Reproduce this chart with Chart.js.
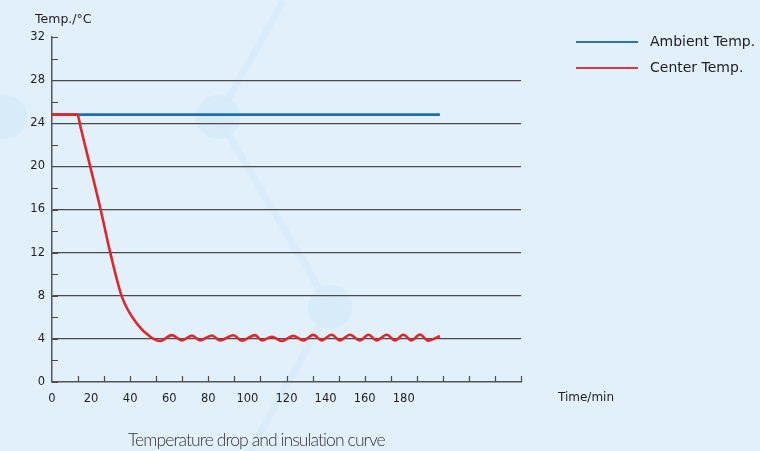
<!DOCTYPE html>
<html>
<head>
<meta charset="utf-8">
<script src="https://cdn.jsdelivr.net/npm/chart.js@4.4.0/dist/chart.umd.min.js"></script>
<style>
  body { margin: 0; background: #e1f0fa; }
  #wrap { position: relative; width: 760px; height: 451px; overflow: hidden; background: #e1f0fa; font-family: "DejaVu Sans", sans-serif; color: #1e1e1e; }
  #deco { position: absolute; left: 0; top: 0; }
  #chart { position: absolute; left: 0; top: 0; }
  .txt { position: absolute; white-space: nowrap; line-height: 1; }
  .leg-line { position: absolute; width: 62px; height: 2px; }
</style>
</head>
<body>
<div id="wrap">
  <svg id="deco" width="760" height="451">
    <g stroke="#d6eaf8" stroke-width="7" fill="none" opacity="0.6">
      <polyline points="284,0 218,117 330,307 250,451" />
    </g>
    <g fill="#d6eaf8" opacity="0.8">
      <circle cx="218" cy="117" r="22" />
      <circle cx="330" cy="307" r="22" />
      <circle cx="5" cy="117" r="22" />
    </g>
  </svg>
  <canvas id="chart" width="760" height="451"></canvas>
  <div class="txt" style="left:35px; top:13px; font-size:12.5px;">Temp./°C</div>
  <div class="txt" style="left:558px; top:391px; font-size:12px;">Time/min</div>
  <div class="leg-line" style="left:576px; top:41px; background:#2a73b8;"></div>
  <div class="txt" style="left:650px; top:34px; font-size:14px;">Ambient Temp.</div>
  <div class="leg-line" style="left:576px; top:67px; background:#e0373c;"></div>
  <div class="txt" style="left:650px; top:60px; font-size:14px;">Center Temp.</div>
  <div class="txt" style="left:128px; top:431px; font-size:17.5px; font-family: Lato, sans-serif; font-weight:300; letter-spacing:-0.9px; color:#333;">Temperature drop and insulation curve</div>
</div>
<script>
// data (time in min, temperature in °C)
const ambientTime = [0, 198.5];
const ambientTemp = [24.8, 24.8];

const centerTime = [0, 13, 14.6, 19.6, 25, 29.8, 35.8, 43.5, 50.3, 55.4,
  61.3, 66.5, 71.6, 75.8, 81.8, 86.0, 92.8, 97.1, 103.9, 107.4,
  112.5, 117.6, 123.5, 128.6, 133.7, 138.0, 143.1, 147.4, 152.5, 157.6,
  161.9, 166.2, 171.3, 175.5, 179.8, 184.0, 188.3, 192.5, 198.5];
const centerTemp = [24.8, 24.8, 23.65, 19.95, 15.9, 12.0, 7.9, 5.4, 4.2, 3.8,
  4.35, 3.85, 4.3, 3.85, 4.32, 3.85, 4.33, 3.84, 4.35, 3.86,
  4.2, 3.8, 4.28, 3.85, 4.37, 3.86, 4.38, 3.86, 4.38, 3.85,
  4.38, 3.86, 4.38, 3.86, 4.38, 3.86, 4.4, 3.84, 4.26];

const xMax = 240;
const xLabelStep = 20;
const xLastLabel = 180;
const xMarkCount = 18;
const yMax = 32;
const yMarkStep = 2;
const yLabelStep = 4;

const toPoints = (xs, ys) => xs.map((x, i) => ({ x: x, y: ys[i] }));

// short inward tick marks on both axes
const innerTicks = {
  id: 'innerTicks',
  afterDraw(chart) {
    const { ctx, chartArea, scales } = chart;
    ctx.save();
    ctx.strokeStyle = '#4a4a4a';
    ctx.lineWidth = 1.2;
    ctx.beginPath();
    scales.y.ticks.forEach(t => {
      const py = Math.round(scales.y.getPixelForValue(t.value)) + 0.5;
      ctx.moveTo(chartArea.left, py);
      ctx.lineTo(chartArea.left + 6, py);
    });
    for (let i = 1; i <= xMarkCount; i++) {
      const px = Math.round(scales.x.getPixelForValue(i * xMax / xMarkCount)) + 0.5;
      ctx.moveTo(px, chartArea.bottom);
      ctx.lineTo(px, chartArea.bottom - 6);
    }
    ctx.stroke();
    ctx.restore();
  }
};

// the first dataset is drawn on top, so the red curve comes first
const chart = new Chart(document.getElementById('chart'), {
  type: 'line',
  data: {
    datasets: [{
      label: 'Center Temp.',
      data: toPoints(centerTime, centerTemp),
      borderColor: '#e0262b',
      borderWidth: 2.6,
      pointRadius: 0,
      cubicInterpolationMode: 'monotone'
    }, {
      label: 'Ambient Temp.',
      data: toPoints(ambientTime, ambientTemp),
      borderColor: '#1f6db3',
      borderWidth: 2.6,
      pointRadius: 0
    }]
  },
  options: {
    responsive: false,
    animation: false,
    devicePixelRatio: 1,
    layout: { padding: { top: 37, right: 239, bottom: 39, left: 0 } },
    plugins: {
      legend: { display: false },
      tooltip: { enabled: false }
    },
    scales: {
      x: {
        type: 'linear',
        min: 0,
        max: xMax,
        afterFit: s => { s.height = 30; },
        grid: { display: false },
        border: { display: true, color: '#555', width: 1.5 },
        ticks: {
          stepSize: xLabelStep,
          padding: 2,
          color: '#1e1e1e',
          font: { family: 'DejaVu Sans', size: 11.5 },
          maxRotation: 0,
          autoSkip: false,
          callback: v => (v <= xLastLabel ? v : '')
        }
      },
      y: {
        min: 0,
        max: yMax,
        afterFit: s => { s.width = 52; },
        grid: {
          drawTicks: false,
          lineWidth: 1.2,
          color: c => (c.tick.value % yLabelStep === 0 && c.tick.value > 0 && c.tick.value < yMax) ? '#4a4a4a' : 'rgba(0,0,0,0)'
        },
        border: { display: true, color: '#555', width: 1.5 },
        ticks: {
          stepSize: yMarkStep,
          padding: 7,
          color: '#1e1e1e',
          font: { family: 'DejaVu Sans', size: 11.5 },
          autoSkip: false,
          callback: v => (v % yLabelStep === 0 ? v : '')
        }
      }
    }
  },
  plugins: [innerTicks]
});
</script>
</body>
</html>
